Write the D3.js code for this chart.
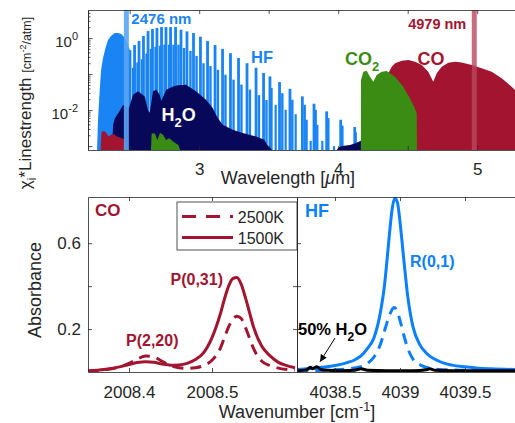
<!DOCTYPE html>
<html>
<head>
<meta charset="utf-8">
<script src="https://cdn.jsdelivr.net/npm/d3@7"></script>
<style>
body { margin: 0; background: #fff; }
text { font-family: "Liberation Sans", Arial, Helvetica, sans-serif; }
</style>
</head>
<body>
<div id="chart"></div>
<script>
// ---------- top panel data: wavelength [um] vs chi_i*linestrength [cm^-2/atm] ----------
// HF dense R-branch (drawn as a filled band)
const hfBandWl = [2.265, 2.272, 2.284, 2.294, 2.308, 2.326, 2.344, 2.365, 2.392, 2.416, 2.440, 2.459, 2.473, 2.488, 2.502, 2.510];
const hfBandS  = [0.0005, 0.0053, 0.034, 0.13, 0.28, 0.53, 0.88, 1.14, 1.38, 1.38, 1.29, 1.07, 0.88, 0.64, 0.46, 0.0005];

// HF P-branch lines, fundamental band
const hfMainWl = [2.502, 2.535, 2.567, 2.599, 2.632, 2.664, 2.696, 2.729, 2.761, 2.794, 2.830, 2.869, 2.912, 2.959, 3.009, 3.060,
                  3.114, 3.168, 3.225, 3.283, 3.344, 3.409, 3.463, 3.509, 3.578, 3.653, 3.742, 3.826, 3.917, 4.018, 4.119];
const hfMainS  = [0.46, 0.64, 0.83, 1.14, 1.56, 1.78, 1.90, 2.02, 2.02, 2.02, 2.02, 1.70, 1.53, 1.38, 1.09, 0.83,
                  0.64, 0.50, 0.38, 0.28, 0.20, 0.15, 0.107, 0.086, 0.060, 0.039, 0.024, 0.015, 0.0092, 0.0054, 0.0034];
// HF hot-band lines
const hfHotWl = [2.524, 2.556, 2.588, 2.621, 2.653, 2.686, 2.718, 2.750, 2.783, 2.815, 2.851, 2.891, 2.937, 2.981, 3.031, 3.081,
                 3.135, 3.189, 3.247, 3.304, 3.365, 3.430, 3.484, 3.520, 3.598, 3.670, 3.759, 3.838, 3.929, 4.030, 4.126];
const hfHotS  = [0.15, 0.21, 0.26, 0.37, 0.50, 0.57, 0.61, 0.65, 0.65, 0.65, 0.65, 0.53, 0.44, 0.32, 0.20, 0.167,
                 0.131, 0.096, 0.070, 0.051, 0.037, 0.026, 0.019, 0.041, 0.0295, 0.0194, 0.014, 0.0102, 0.006, 0.0037, 0.0024];
const hfHot2Wl = [3.550, 3.622, 3.694, 3.773, 3.802, 3.850, 3.886, 3.970];
const hfHot2S  = [0.014, 0.0102, 0.0077, 0.0054, 0.0014, 0.0039, 0.0014, 0.001];

// H2O envelope
const h2oWl = [2.373, 2.380, 2.394, 2.423, 2.452, 2.473, 2.495, 2.524, 2.560, 2.608, 2.632, 2.644, 2.668, 2.691, 2.716, 2.727,
               2.763, 2.812, 2.847, 2.905, 2.977, 3.049, 3.097, 3.133, 3.169, 3.241, 3.313, 3.409, 3.468, 3.490, 3.524,
               3.990, 4.000, 4.027, 4.085, 4.128, 4.164, 4.171];
const h2oS  = [0.0005, 0.0038, 0.0060, 0.0088, 0.0138, 0.0130, 0.0114, 0.0266, 0.0331, 0.024, 0.0098, 0.0085, 0.0331, 0.0366, 0.0266, 0.0178,
               0.0366, 0.0455, 0.0486, 0.0504, 0.0331, 0.0193, 0.0114, 0.0060, 0.0039, 0.00284, 0.0023, 0.00186, 0.0015, 0.00107, 0.0005,
               0.0005, 0.0009, 0.0010, 0.00107, 0.00122, 0.0014, 0.0005];

// CO2 envelope
const co2Wl = [2.653, 2.658, 2.682, 2.699, 2.718, 2.742, 2.761, 2.785, 2.814, 2.850, 2.862,
               4.163, 4.164, 4.181, 4.205, 4.229, 4.253, 4.277, 4.313, 4.349, 4.409, 4.468, 4.517, 4.547, 4.565, 4.567];
const co2S  = [0.0005, 0.00225, 0.00225, 0.00147, 0.00234, 0.00202, 0.00147, 0.00164, 0.00132, 0.00107, 0.0005,
               0.0005, 0.068, 0.116, 0.124, 0.084, 0.061, 0.094, 0.116, 0.121, 0.084, 0.0444, 0.0211, 0.0124, 0.0081, 0.0005];

// CO envelope
const coWl = [2.290, 2.297, 2.315, 2.333, 2.347, 2.365, 2.387, 2.409, 2.437, 2.463, 2.470,
              4.308, 4.358, 4.385, 4.409, 4.457, 4.504, 4.553, 4.601, 4.648, 4.684, 4.709, 4.745, 4.792, 4.840, 4.888,
              4.960, 5.032, 5.104, 5.176, 5.248, 5.272, 5.308];
const coS  = [0.0005, 0.00245, 0.00261, 0.0023, 0.00184, 0.00208, 0.00215, 0.00184, 0.00172, 0.00156, 0.0005,
              0.0005, 0.10, 0.160, 0.198, 0.234, 0.245, 0.22, 0.178, 0.116, 0.061, 0.1046, 0.160, 0.206, 0.22, 0.211,
              0.178, 0.144, 0.116, 0.076, 0.0444, 0.036, 0.026];

// laser wavelengths
const laserWl = [2.476, 4.979];
const laserLabels = ["2476 nm", "4979 nm"];

const topTicks = [2.5, 3, 3.5, 4, 4.5, 5];

// ---------- bottom left: CO absorbance vs wavenumber [cm^-1] ----------
const coWn = [2008.35, 2008.37, 2008.39, 2008.40, 2008.41, 2008.42, 2008.43, 2008.44, 2008.45, 2008.46, 2008.47, 2008.48,
              2008.49, 2008.50, 2008.51, 2008.515, 2008.52, 2008.525, 2008.53, 2008.535, 2008.54, 2008.545, 2008.55,
              2008.56, 2008.57, 2008.58, 2008.59, 2008.60];
const coAbs1500 = [0.005, 0.012, 0.025, 0.035, 0.044, 0.048, 0.045, 0.037, 0.032, 0.033, 0.040, 0.058,
                   0.09, 0.16, 0.27, 0.34, 0.40, 0.435, 0.44, 0.41, 0.35, 0.28, 0.21,
                   0.12, 0.075, 0.045, 0.03, 0.02];
const coAbs2500 = [0.004, 0.01, 0.025, 0.04, 0.06, 0.075, 0.07, 0.05, 0.03, 0.02, 0.017, 0.02,
                   0.03, 0.055, 0.11, 0.16, 0.21, 0.245, 0.26, 0.25, 0.21, 0.16, 0.11,
                   0.05, 0.03, 0.018, 0.012, 0.009];

// ---------- bottom right: HF and H2O absorbance ----------
const hfWn1500 = [4038.21, 4038.3, 4038.4, 4038.5, 4038.6, 4038.65, 4038.7, 4038.75, 4038.8, 4038.85, 4038.88, 4038.9,
                  4038.92, 4038.94, 4038.96, 4038.98, 4039.0, 4039.02, 4039.04, 4039.06, 4039.08, 4039.1, 4039.15,
                  4039.2, 4039.3, 4039.4, 4039.5, 4039.6, 4039.7, 4039.92];
const hfAbs1500 = [0.012, 0.016, 0.022, 0.03, 0.045, 0.056, 0.075, 0.11, 0.16, 0.28, 0.40, 0.52,
                   0.65, 0.76, 0.81, 0.79, 0.70, 0.58, 0.46, 0.35, 0.27, 0.21, 0.13,
                   0.09, 0.05, 0.032, 0.024, 0.018, 0.015, 0.011];
const hfWn2500 = [4038.21, 4038.5, 4038.7, 4038.75, 4038.8, 4038.85, 4038.88, 4038.9, 4038.93, 4038.955, 4038.98,
                  4039.0, 4039.03, 4039.06, 4039.1, 4039.15, 4039.2, 4039.3, 4039.5, 4039.92];
const hfAbs2500 = [0.005, 0.01, 0.025, 0.04, 0.07, 0.13, 0.19, 0.23, 0.28, 0.30, 0.28,
                   0.24, 0.17, 0.11, 0.06, 0.035, 0.022, 0.012, 0.008, 0.005];
const h2oWn = [4038.21, 4038.28, 4038.31, 4038.33, 4038.36, 4038.39, 4038.45, 4038.55, 4038.65, 4038.7, 4038.75,
               4038.9, 4039.1, 4039.2, 4039.23, 4039.27, 4039.4, 4039.6, 4039.92];
const h2oAbs = [0.006, 0.01, 0.022, 0.015, 0.025, 0.012, 0.008, 0.006, 0.008, 0.015, 0.008,
                0.006, 0.006, 0.01, 0.015, 0.008, 0.006, 0.006, 0.006];

// ---------- colours ----------
const cHFtop = "#1a84f4", cHF = "#0a7fff", cH2O = "#08085a", cCO2 = "#3b8c14", cCO = "#a2142f";
const axisCol = "#262626";

const zip = (a, b) => a.map((v, i) => [v, b[i]]);

const svg = d3.select("#chart").append("svg")
    .attr("width", 515)
    .attr("height", 423);

// Scales
const xT = d3.scaleLinear().domain([2.2, 5.3]).range([88, 518.9]);
const yT = d3.scaleLog().domain([7.8e-4, 6]).range([150, 10]).clamp(true);
const xL = d3.scaleLinear().domain([2008.3506, 2008.6024]).range([88, 297]);
const xR = d3.scaleLinear().domain([4038.2077, 4039.92]).range([297, 519.6]);
const yB = d3.scaleLinear().domain([0, 0.815]).range([372, 197]);

function styleAxis(g, size) {
    g.attr("font-family", null).attr("font-size", null);
    g.selectAll("path, line").attr("stroke", axisCol).attr("stroke-width", 0.8);
    g.selectAll("text").attr("fill", axisCol).style("font-size", size + "px");
}

// ---------- top panel ----------
svg.append("clipPath").attr("id", "clipTop")
    .append("rect").attr("x", 88).attr("y", 10).attr("width", 431).attr("height", 140);
const gTop = svg.append("g").attr("clip-path", "url(#clipTop)");

const areaT = d3.area()
    .x(d => xT(d[0]))
    .y0(yT.range()[0])
    .y1(d => yT(d[1]));

gTop.append("path").datum(zip(hfBandWl, hfBandS)).attr("d", areaT).attr("fill", cHFtop);

[[hfMainWl, hfMainS, 2.8], [hfHotWl, hfHotS, 2.4], [hfHot2Wl, hfHot2S, 2.2]].forEach(([wl, s, w]) => {
    gTop.selectAll(null)
        .data(zip(wl, s))
        .enter()
        .append("rect")
        .attr("x", d => xT(d[0]) - w / 2)
        .attr("width", w)
        .attr("y", d => yT(d[1]))
        .attr("height", d => yT.range()[0] - yT(d[1]))
        .attr("fill", cHFtop);
});

gTop.append("path").datum(zip(h2oWl, h2oS)).attr("d", areaT).attr("fill", cH2O);
gTop.append("path").datum(zip(coWl, coS)).attr("d", areaT).attr("fill", cCO);
gTop.append("path").datum(zip(co2Wl, co2S)).attr("d", areaT).attr("fill", cCO2);

// laser lines
const laserCol = ["rgba(90,165,245,0.9)", "rgba(185,70,95,0.8)"];
laserWl.forEach((wl, i) => {
    gTop.append("line")
        .attr("x1", xT(wl)).attr("x2", xT(wl))
        .attr("y1", 10).attr("y2", 150)
        .attr("stroke", laserCol[i])
        .attr("stroke-width", 5);
});

// top axes
svg.append("g")
    .attr("transform", "translate(0,150)")
    .call(d3.axisBottom(xT).tickValues(topTicks).tickSizeInner(-4).tickSizeOuter(0)
        .tickFormat(d => Number.isInteger(d) ? d : ""))
    .call(g => styleAxis(g, 17))
    .call(g => g.selectAll("text").attr("y", 25).attr("dy", 0));
svg.append("g")
    .attr("transform", "translate(0,10)")
    .call(d3.axisTop(xT).tickValues(topTicks).tickSizeInner(-4).tickSizeOuter(0).tickFormat(""))
    .call(g => styleAxis(g, 17));

const logMinor = [];
[1e-3, 1e-2, 1e-1, 1].forEach(dec => d3.range(2, 10).forEach(k => { if (dec * k < 6) logMinor.push(dec * k); }));
svg.append("g")
    .attr("transform", "translate(88,0)")
    .call(d3.axisLeft(yT).tickValues(logMinor).tickSizeInner(-2.5).tickSizeOuter(0).tickFormat(""))
    .call(g => styleAxis(g, 15));
svg.append("g")
    .attr("transform", "translate(88,0)")
    .call(d3.axisLeft(yT).tickValues([1e-3, 1e-2, 1e-1, 1]).tickSizeInner(-4.5).tickSizeOuter(0).tickFormat(""))
    .call(g => styleAxis(g, 15));

[[1, "0"], [0.01, "-2"]].forEach(([v, ex]) => {
    const t = svg.append("text")
        .attr("x", 78).attr("y", yT(v) + 8.5)
        .attr("text-anchor", "end")
        .attr("fill", axisCol)
        .style("font-size", "15px");
    t.append("tspan").text("10");
    t.append("tspan").attr("dy", -7).style("font-size", "11px").text(ex);
});

// top labels
svg.append("text")
    .attr("x", xT(laserWl[0]) + 5).attr("y", 24)
    .attr("fill", cHFtop).attr("font-weight", "bold").style("font-size", "15px")
    .text(laserLabels[0]);
svg.append("text")
    .attr("x", xT(laserWl[1]) - 8).attr("y", 29)
    .attr("text-anchor", "end")
    .attr("fill", cCO).attr("font-weight", "bold").style("font-size", "14.5px")
    .text(laserLabels[1]);

svg.append("text").attr("x", 251).attr("y", 63)
    .attr("fill", cHFtop).attr("font-weight", "bold").style("font-size", "16.5px").text("HF");
const tCO2 = svg.append("text").attr("x", 345).attr("y", 65)
    .attr("fill", cCO2).attr("font-weight", "bold").style("font-size", "18px");
tCO2.append("tspan").text("CO");
tCO2.append("tspan").attr("dy", 6).style("font-size", "13px").text("2");
svg.append("text").attr("x", 417.5).attr("y", 65)
    .attr("fill", cCO).attr("font-weight", "bold").style("font-size", "18px").text("CO");
const tH2O = svg.append("text").attr("x", 161.5).attr("y", 121)
    .attr("fill", "#fff").attr("font-weight", "bold").style("font-size", "18px");
tH2O.append("tspan").text("H");
tH2O.append("tspan").attr("dy", 6).style("font-size", "13px").text("2");
tH2O.append("tspan").attr("dy", -6).text("O");

// top axis titles
svg.append("text")
    .attr("x", 288).attr("y", 184)
    .attr("text-anchor", "middle")
    .attr("fill", axisCol).style("font-size", "18px")
    .call(t => {
        t.append("tspan").text("Wavelength [");
        t.append("tspan").attr("font-style", "italic").text("\u03bc");
        t.append("tspan").text("m]");
    });

const yTitle = svg.append("text")
    .attr("transform", "translate(31,103) rotate(-90)")
    .attr("text-anchor", "middle")
    .attr("fill", axisCol).style("font-size", "17px");
yTitle.append("tspan").text("\u03c7");
yTitle.append("tspan").attr("dy", 5).style("font-size", "12px").text("i");
yTitle.append("tspan").attr("dy", -5).text("*Linestrength ");
yTitle.append("tspan").style("font-size", "12.5px").text("[cm");
yTitle.append("tspan").attr("dy", -5).style("font-size", "9px").text("-2");
yTitle.append("tspan").attr("dy", 5).style("font-size", "12.5px").text("/atm]");

// ---------- bottom panels ----------
svg.append("clipPath").attr("id", "clipL")
    .append("rect").attr("x", 88).attr("y", 197).attr("width", 209).attr("height", 175);
svg.append("clipPath").attr("id", "clipR")
    .append("rect").attr("x", 297).attr("y", 197).attr("width", 223).attr("height", 175);

const lineL = d3.line().x(d => xL(d[0])).y(d => yB(d[1])).curve(d3.curveMonotoneX);
const lineR = d3.line().x(d => xR(d[0])).y(d => yB(d[1])).curve(d3.curveMonotoneX);
const dash = "11,7";

const gL = svg.append("g").attr("clip-path", "url(#clipL)");
gL.append("path").datum(zip(coWn, coAbs2500)).attr("d", lineL)
    .attr("fill", "none").attr("stroke", cCO).attr("stroke-width", 3).attr("stroke-dasharray", dash);
gL.append("path").datum(zip(coWn, coAbs1500)).attr("d", lineL)
    .attr("fill", "none").attr("stroke", cCO).attr("stroke-width", 3);

const gR = svg.append("g").attr("clip-path", "url(#clipR)");
gR.append("path").datum(zip(hfWn2500, hfAbs2500)).attr("d", lineR)
    .attr("fill", "none").attr("stroke", cHF).attr("stroke-width", 3).attr("stroke-dasharray", dash);
gR.append("path").datum(zip(hfWn1500, hfAbs1500)).attr("d", lineR)
    .attr("fill", "none").attr("stroke", cHF).attr("stroke-width", 3);
gR.append("path").datum(zip(h2oWn, h2oAbs)).attr("d", lineR)
    .attr("fill", "none").attr("stroke", "#000").attr("stroke-width", 3);

// bottom axes
const fmt = d => String(d);
svg.append("g").attr("transform", "translate(0,372)")
    .call(d3.axisBottom(xL).tickValues([2008.4, 2008.5]).tickSizeInner(-4).tickSizeOuter(0).tickFormat(fmt))
    .call(g => styleAxis(g, 17))
    .call(g => g.selectAll("text").attr("y", 26).attr("dy", 0));
svg.append("g").attr("transform", "translate(0,197)")
    .call(d3.axisTop(xL).tickValues([2008.4, 2008.5]).tickSizeInner(-4).tickSizeOuter(0).tickFormat(""))
    .call(g => styleAxis(g, 17));
svg.append("g").attr("transform", "translate(0,372)")
    .call(d3.axisBottom(xR).tickValues([4038.5, 4039, 4039.5]).tickSizeInner(-4).tickSizeOuter(0).tickFormat(fmt))
    .call(g => styleAxis(g, 17))
    .call(g => g.selectAll("text").attr("y", 26).attr("dy", 0));
svg.append("g").attr("transform", "translate(0,197)")
    .call(d3.axisTop(xR).tickValues([4038.5, 4039, 4039.5]).tickSizeInner(-4).tickSizeOuter(0).tickFormat(""))
    .call(g => styleAxis(g, 17));
svg.append("g").attr("transform", "translate(88,0)")
    .call(d3.axisLeft(yB).tickValues([0.2, 0.4, 0.6]).tickSizeInner(-4).tickSizeOuter(0)
        .tickFormat(d => d === 0.4 ? "" : d))
    .call(g => styleAxis(g, 17))
    .call(g => g.selectAll("text").attr("x", -7));
svg.append("g").attr("transform", "translate(297,0)")
    .call(d3.axisRight(yB).tickValues([0.2, 0.4, 0.6]).tickSizeInner(-4).tickSizeOuter(0).tickFormat(""))
    .call(g => styleAxis(g, 17));
svg.append("g").attr("transform", "translate(297,0)")
    .call(d3.axisLeft(yB).tickValues([0.2, 0.4, 0.6]).tickSizeInner(-4).tickSizeOuter(0).tickFormat(""))
    .call(g => styleAxis(g, 17));

// legend
const lg = svg.append("g");
lg.append("rect").attr("x", 177).attr("y", 202).attr("width", 120).attr("height", 48)
    .attr("fill", "#fff").attr("stroke", axisCol).attr("stroke-width", 0.8);
const legendItems = [["2500K", dash, 216.5], ["1500K", null, 237.5]];
legendItems.forEach(([lab, da, y]) => {
    lg.append("line").attr("x1", 182).attr("x2", 233).attr("y1", y).attr("y2", y)
        .attr("stroke", cCO).attr("stroke-width", 3).attr("stroke-dasharray", da ? "14,10" : null);
    lg.append("text").attr("x", 284).attr("y", y + 6).attr("text-anchor", "end")
        .attr("fill", axisCol).style("font-size", "16px").text(lab);
});

// panel annotations
const bold = (x, y, txt, col, size) => svg.append("text").attr("x", x).attr("y", y)
    .attr("fill", col).attr("font-weight", "bold").style("font-size", size + "px").text(txt);
bold(95, 216, "CO", cCO, 17);
bold(170.5, 285, "P(0,31)", cCO, 16);
bold(126, 346, "P(2,20)", cCO, 16);
bold(305, 217, "HF", cHF, 18);
bold(410, 267, "R(0,1)", cHF, 16);

const tW = svg.append("text").attr("x", 298).attr("y", 335)
    .attr("fill", "#000").attr("font-weight", "bold").style("font-size", "16.5px");
tW.append("tspan").text("50% H");
tW.append("tspan").attr("dy", 6).style("font-size", "12px").text("2");
tW.append("tspan").attr("dy", -6).text("O");

svg.append("defs").append("marker")
    .attr("id", "arrowHead").attr("viewBox", "0 0 10 10").attr("refX", 10).attr("refY", 5)
    .attr("markerWidth", 7).attr("markerHeight", 7).attr("markerUnits", "userSpaceOnUse").attr("orient", "auto")
    .append("path").attr("d", "M0,0L10,5L0,10z").attr("fill", "#000");
svg.append("line")
    .attr("x1", xR(4038.5)).attr("y1", yB(0.158))
    .attr("x2", xR(4038.385)).attr("y2", yB(0.048))
    .attr("stroke", "#000").attr("stroke-width", 1)
    .attr("marker-end", "url(#arrowHead)");

// bottom axis titles
svg.append("text")
    .attr("transform", "translate(41,290) rotate(-90)")
    .attr("text-anchor", "middle")
    .attr("fill", axisCol).style("font-size", "18px")
    .text("Absorbance");
const xB = svg.append("text")
    .attr("x", 297).attr("y", 418)
    .attr("text-anchor", "middle")
    .attr("fill", axisCol).style("font-size", "18px");
xB.append("tspan").text("Wavenumber [cm");
xB.append("tspan").attr("dy", -7).style("font-size", "12.5px").text("-1");
xB.append("tspan").attr("dy", 7).text("]");
</script>
</body>
</html>
